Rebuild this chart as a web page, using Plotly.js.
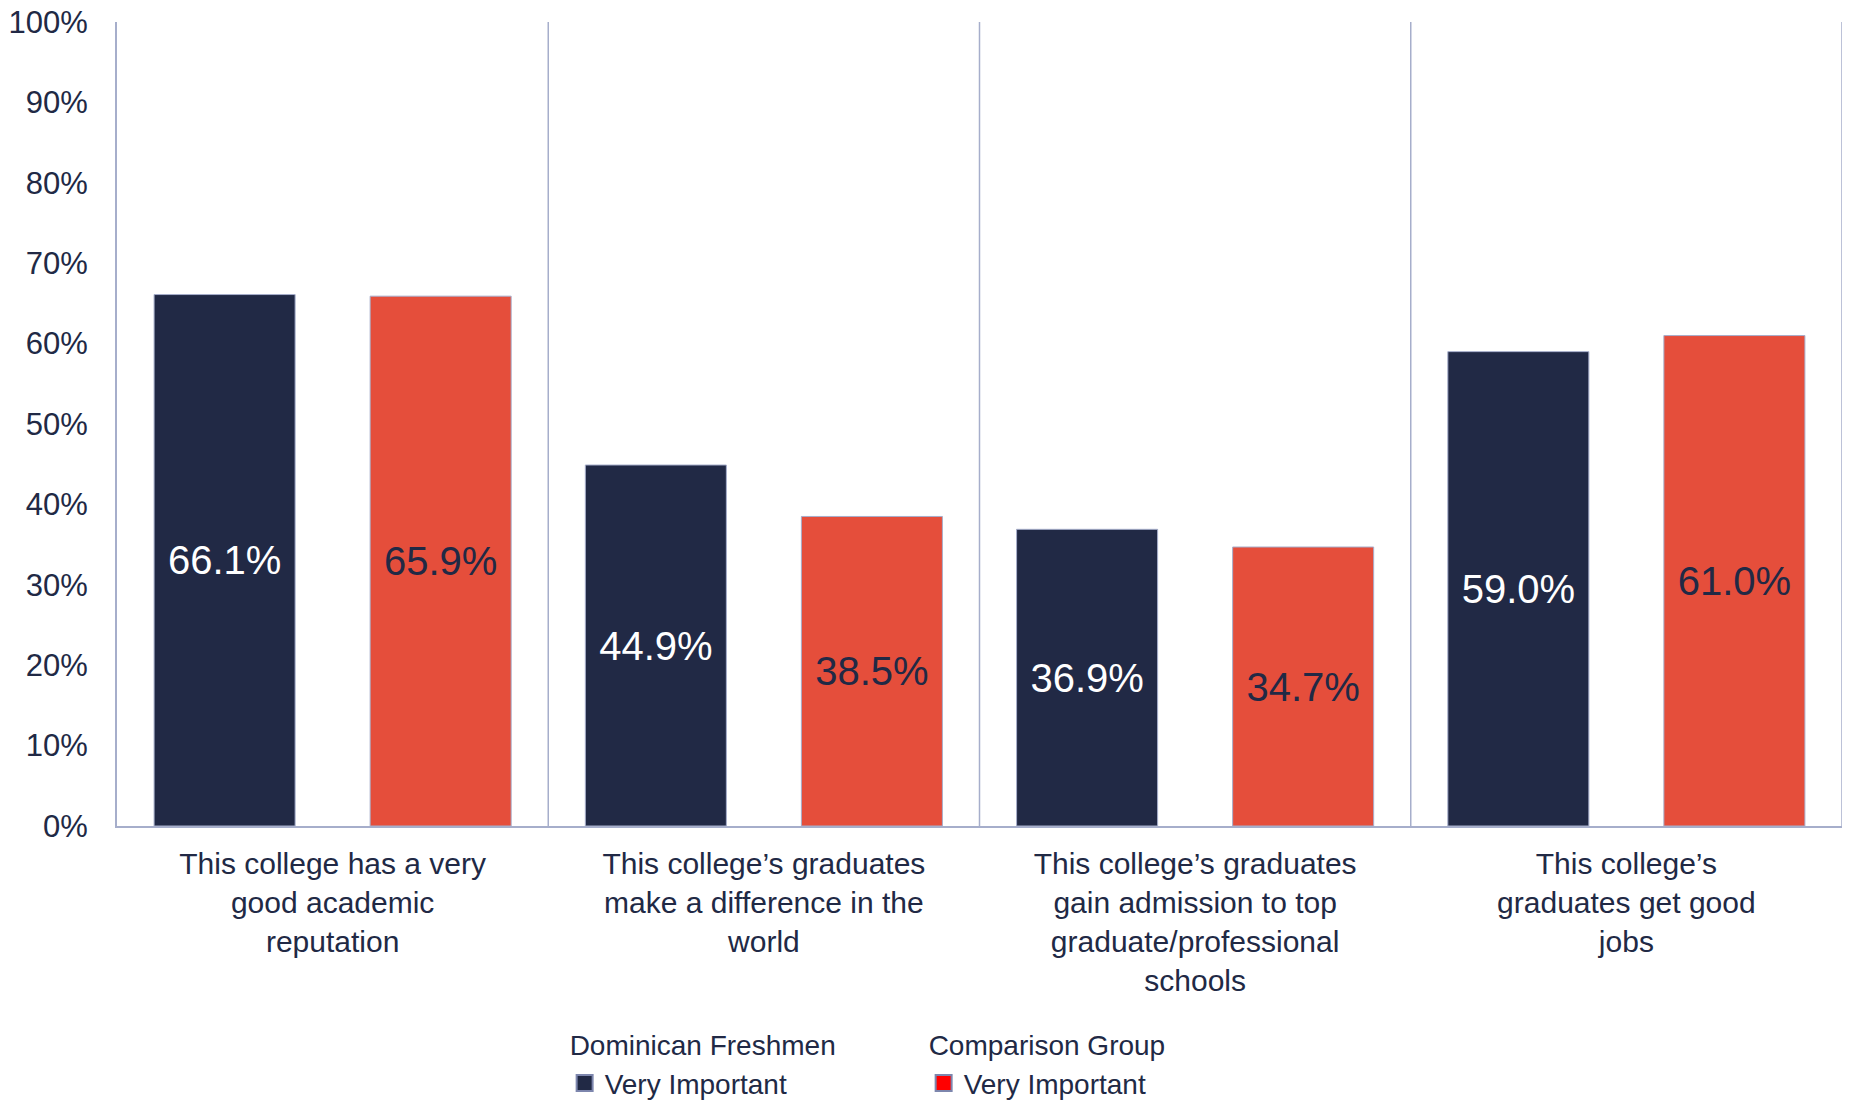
<!DOCTYPE html>
<html>
<head>
<meta charset="utf-8">
<script src="https://cdn.plot.ly/plotly-3.0.1.min.js"></script>
<style>html,body{margin:0;padding:0;background:#fff;}#chart{width:1850px;height:1105px;}</style>
</head>
<body>
<div id="chart"></div>
<script>
const categories = [
  "This college has a very<br>good academic<br>reputation",
  "This college’s graduates<br>make a difference in the<br>world",
  "This college’s graduates<br>gain admission to top<br>graduate/professional<br>schools",
  "This college’s<br>graduates get good<br>jobs"
];
const dominicanValues = [66.1, 44.9, 36.9, 59.0];
const comparisonValues = [65.9, 38.5, 34.7, 61.0];
const seriesGroups = ["Dominican Freshmen", "Comparison Group"];
const seriesNames = ["Very Important", "Very Important"];
const yTicks = [0, 10, 20, 30, 40, 50, 60, 70, 80, 90, 100];

const NAVY = '#212945';
const RED = '#e54e3b';
const LINE = '#a6aecb';
const FONT = '"Liberation Sans", Arial, sans-serif';

const traces = [
  {
    type: 'bar', x: categories, y: dominicanValues, name: seriesNames[0],
    showlegend: false, width: 0.327, offset: -0.414,
    marker: {color: NAVY, line: {color: LINE, width: 1}},
    texttemplate: '%{y:.1f}%', textposition: 'inside', insidetextanchor: 'middle',
    textangle: 0, constraintext: 'none',
    textfont: {family: FONT, size: 40, color: '#ffffff'}, hoverinfo: 'skip'
  },
  {
    type: 'bar', x: categories, y: comparisonValues, name: seriesNames[1],
    showlegend: false, width: 0.327, offset: 0.087,
    marker: {color: RED, line: {color: LINE, width: 1}},
    texttemplate: '%{y:.1f}%', textposition: 'inside', insidetextanchor: 'middle',
    textangle: 0, constraintext: 'none',
    textfont: {family: FONT, size: 40, color: NAVY}, hoverinfo: 'skip'
  },
  {
    type: 'scatter', mode: 'markers', x: [categories[0]], y: [null], name: seriesNames[0],
    legendgroup: 'g1', legendgrouptitle: {text: seriesGroups[0]},
    marker: {symbol: 'square', size: 16, color: NAVY, line: {color: '#7d86ad', width: 2}}, hoverinfo: 'skip'
  },
  {
    type: 'scatter', mode: 'markers', x: [categories[0]], y: [null], name: seriesNames[1],
    legendgroup: 'g2', legendgrouptitle: {text: seriesGroups[1]},
    marker: {symbol: 'square', size: 16, color: '#ff0000', line: {color: '#7d86ad', width: 2}}, hoverinfo: 'skip'
  }
];

const shapes = [];
for (let i = 1; i <= categories.length; i++) {
  shapes.push({type: 'line', xref: 'x', yref: 'paper', x0: i - 0.5, x1: i - 0.5, y0: 0, y1: 1,
    line: {color: LINE, width: 1.5}});
}

const layout = {
  width: 1850, height: 1105,
  margin: {l: 117, r: 8, t: 22, b: 279, autoexpand: false},
  paper_bgcolor: '#ffffff', plot_bgcolor: '#ffffff',
  barmode: 'overlay',
  font: {family: FONT, color: NAVY, size: 29},
  xaxis: {
    type: 'category', categoryorder: 'array', categoryarray: categories,
    range: [-0.5, categories.length - 0.5],
    showline: true, linecolor: LINE, linewidth: 2, showgrid: false, zeroline: false,
    ticks: '', tickfont: {family: FONT, size: 30, color: NAVY}, ticklabelstandoff: 10
  },
  yaxis: {
    range: [0, 100], tickvals: yTicks, ticktext: yTicks.map(v => v + '%'),
    showline: true, linecolor: LINE, linewidth: 2, showgrid: false, zeroline: false,
    ticks: '', tickfont: {family: FONT, size: 31, color: NAVY}, ticklabelstandoff: 21
  },
  shapes: shapes,
  showlegend: true,
  legend: {
    orientation: 'h', traceorder: 'grouped', entrywidth: 314,
    x: 0.2595, xanchor: 'left', y: -0.24, yanchor: 'top',
    font: {family: FONT, size: 28, color: NAVY},
    grouptitlefont: {family: FONT, size: 28, color: NAVY},
    bgcolor: 'rgba(0,0,0,0)'
  }
};

Plotly.newPlot('chart', traces, layout, {displayModeBar: false, staticPlot: true});
</script>
</body>
</html>
